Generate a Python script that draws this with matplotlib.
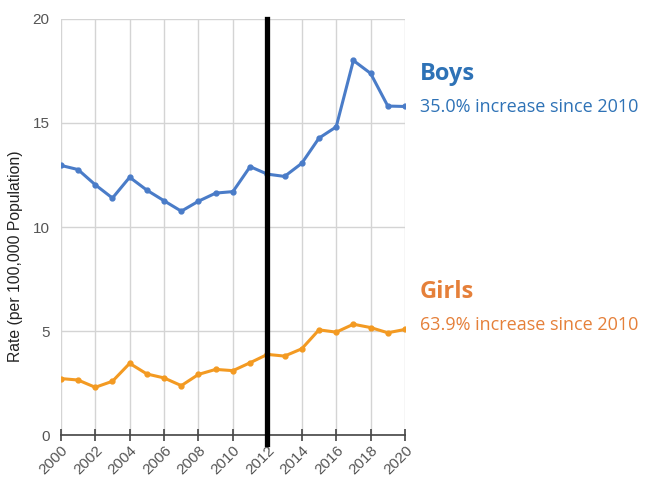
import matplotlib.pyplot as plt
import numpy as np

plt.rcParams['font.family'] = ['Liberation Sans', 'DejaVu Sans']

years = list(range(2000, 2021))
boys = [12.96, 12.76, 12.03, 11.39, 12.39, 11.77, 11.26, 10.76, 11.24, 11.63, 11.70,
        12.90, 12.54, 12.43, 13.06, 14.27, 14.81, 18.00, 17.38, 15.81, 15.79]
girls = [2.72, 2.65, 2.30, 2.59, 3.45, 2.94, 2.75, 2.38, 2.92, 3.16, 3.10,
         3.48, 3.88, 3.80, 4.15, 5.06, 4.95, 5.33, 5.17, 4.92, 5.08]
xticks = list(range(2000, 2021, 2))
yticks = [0, 5, 10, 15, 20]
cut_year = 2012

fig = plt.figure(figsize=(6.47, 4.83), dpi=100)
ax = fig.add_axes([0.094, 0.099, 0.532, 0.862])

ax.plot(years, boys, color='#4a7cc8', lw=2.2, marker='o', ms=3.5, zorder=3)
ax.plot(years, girls, color='#f39a22', lw=2.2, marker='o', ms=3.5, zorder=3)

# dividing line
ax.axvline(cut_year, ymin=-0.022, ymax=1, color='black', lw=3.8, zorder=4, clip_on=False)

ax.set_xlim(2000, 2020)
ax.set_ylim(0, 20)
ax.set_xticks(xticks)
ax.set_yticks(yticks)
ax.set_xticklabels([str(y) for y in xticks], rotation=45, ha='right', rotation_mode='anchor')
ax.grid(True, color='#d4d4d4', lw=1)
ax.set_axisbelow(True)
for s in ['top', 'right', 'left']:
    ax.spines[s].set_visible(False)
ax.spines['bottom'].set_color('#444444')
ax.spines['bottom'].set_linewidth(1.2)
ax.tick_params(axis='x', direction='inout', length=9, width=1.2, color='#444444',
               labelsize=11, labelcolor='#555555', pad=1)
ax.tick_params(axis='y', length=0, labelsize=11, labelcolor='#555555', pad=8)
ax.set_ylabel('Rate (per 100,000 Population)', fontsize=11.3, color='#222222')
ax.yaxis.set_label_coords(-0.11, 0.43)

fig.text(0.649, 0.846, 'Boys', fontsize=17, fontweight='bold', color='#2e72b6',
         family=['Open Sans', 'DejaVu Sans'], va='center')
fig.text(0.649, 0.779, '35.0% increase since 2010', fontsize=13, color='#2e72b6',
         family=['Open Sans', 'DejaVu Sans'], va='center')
fig.text(0.649, 0.395, 'Girls', fontsize=17, fontweight='bold', color='#e5803a',
         family=['Open Sans', 'DejaVu Sans'], va='center')
fig.text(0.649, 0.327, '63.9% increase since 2010', fontsize=13, color='#e5803a',
         family=['Open Sans', 'DejaVu Sans'], va='center')

fig.savefig('out.png', dpi=100)
